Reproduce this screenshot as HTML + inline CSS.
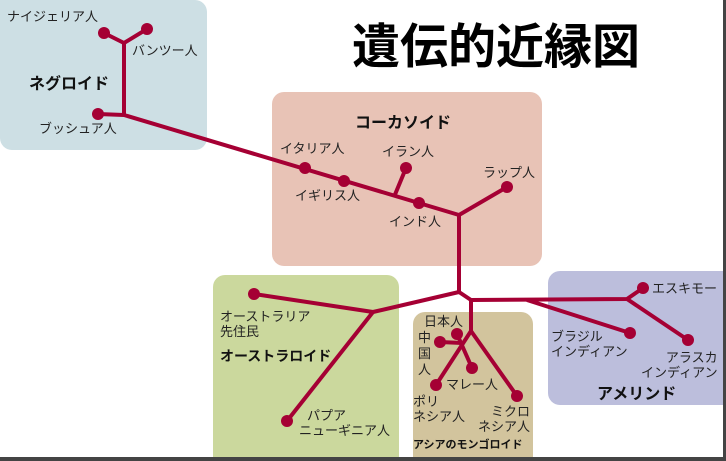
<!DOCTYPE html>
<html style="overflow:hidden;width:726px;height:461px"><head><meta charset="utf-8"><style>
body{margin:0;width:726px;height:461px;overflow:hidden;background:#fff;position:relative;font-family:"Liberation Sans","Noto Sans CJK JP",sans-serif;}
.b{position:absolute;border-radius:12px;}
.t{position:absolute;font-size:13px;color:#222;line-height:15px;white-space:nowrap;}
.h{position:absolute;font-size:16px;font-weight:bold;color:#111;white-space:nowrap;}
</style></head><body>
<div class="b" style="left:0;top:0;width:207px;height:150px;background:#cddfe4;border-radius:0 12px 12px 12px"></div>
<div class="b" style="left:272px;top:92px;width:270px;height:174px;background:#e8c3b6"></div>
<div class="b" style="left:213px;top:275px;width:186px;height:183px;background:#cbd89d;border-radius:12px 12px 0 0"></div>
<div class="b" style="left:413px;top:312px;width:120px;height:146px;background:#d2c49d;border-radius:12px 12px 0 0"></div>
<div class="b" style="left:548px;top:271px;width:175px;height:134px;background:#bcbedc;border-radius:12px 0 0 12px"></div>
<div style="position:absolute;left:352px;top:10px;font-size:48px;font-weight:bold;color:#000;font-family:'Noto Sans CJK JP',sans-serif;line-height:64px">遺伝的近縁図</div>
<svg width="726" height="461" style="position:absolute;left:0;top:0">
<g stroke="#a50034" stroke-width="4" fill="none" stroke-linejoin="round">
<polyline points="104,33 124,43 147,29"/>
<polyline points="124,43 124,115 98,114"/>
<polyline points="124,115 459,215 507,187"/>
<line x1="394" y1="197" x2="406" y2="168"/>
<polyline points="459,215 459,292 373,312 254,294"/>
<line x1="373" y1="312" x2="287" y2="421"/>
<polyline points="459,292 471,300 627,299 643,288"/>
<line x1="627" y1="299" x2="688" y2="340"/>
<line x1="527" y1="300" x2="630" y2="333"/>
<line x1="471" y1="300" x2="471" y2="331"/>
<line x1="471" y1="331" x2="436" y2="385"/>
<line x1="471" y1="331" x2="517" y2="396"/>
<line x1="457" y1="334" x2="472" y2="368"/>
<line x1="440" y1="342" x2="462" y2="343"/>
</g>
<g fill="#a50034">
<circle cx="104" cy="33" r="6"/><circle cx="147" cy="29" r="6"/><circle cx="98" cy="114" r="6"/>
<circle cx="305" cy="168" r="6"/><circle cx="344" cy="181" r="6"/><circle cx="406" cy="168" r="6"/>
<circle cx="419" cy="203" r="6"/><circle cx="507" cy="187" r="6"/>
<circle cx="254" cy="294" r="6"/><circle cx="287" cy="421" r="6"/>
<circle cx="643" cy="288" r="6"/><circle cx="688" cy="340" r="6"/><circle cx="630" cy="333" r="6"/>
<circle cx="457" cy="334" r="6"/><circle cx="440" cy="342" r="6"/><circle cx="472" cy="368" r="6"/>
<circle cx="436" cy="385" r="6"/><circle cx="517" cy="396" r="6"/>
</g>
<rect x="0" y="457" width="726" height="4" fill="#444"/>
<rect x="723" y="0" width="3" height="461" fill="#444"/>
</svg>
<div class="t" style="left:7px;top:9px">ナイジェリア人</div>
<div class="t" style="left:132px;top:43px">バンツー人</div>
<div class="h" style="left:29px;top:70px">ネグロイド</div>
<div class="t" style="left:39px;top:121px">ブッシュア人</div>
<div class="h" style="left:355px;top:109px">コーカソイド</div>
<div class="t" style="left:280px;top:141px">イタリア人</div>
<div class="t" style="left:382px;top:144px">イラン人</div>
<div class="t" style="left:295px;top:188px">イギリス人</div>
<div class="t" style="left:389px;top:214px">インド人</div>
<div class="t" style="left:483px;top:165px">ラップ人</div>
<div class="t" style="left:220px;top:309px">オーストラリア<br>先住民</div>
<div class="h" style="left:220px;top:346px;font-size:14px">オーストラロイド</div>
<div class="t" style="left:307px;top:408px">パプア</div>
<div class="t" style="left:299px;top:423px">ニューギニア人</div>
<div class="t" style="left:424px;top:314px">日本人</div>
<div class="t" style="left:418px;top:330px;width:14px;white-space:normal;line-height:16px">中国人</div>
<div class="t" style="left:446px;top:377px">マレー人</div>
<div class="t" style="left:413px;top:394px">ポリ<br>ネシア人</div>
<div class="t" style="left:478px;top:404px;text-align:right">ミクロ<br>ネシア人</div>
<div class="h" style="left:413px;top:436px;font-size:11px">アシアのモンゴロイド</div>
<div class="t" style="left:652px;top:281px">エスキモー</div>
<div class="t" style="left:551px;top:329px">ブラジル<br>インディアン</div>
<div class="t" style="left:641px;top:350px;text-align:right">アラスカ<br>インディアン</div>
<div class="h" style="left:597px;top:380px">アメリンド</div>
</body></html>
